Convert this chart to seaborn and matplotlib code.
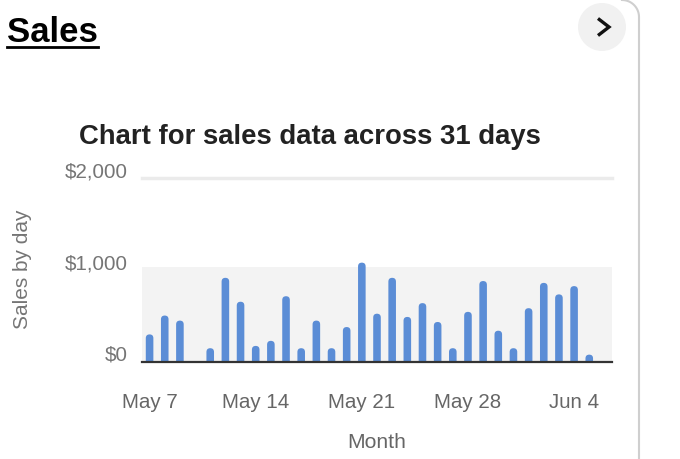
import matplotlib
matplotlib.use("Agg")
import matplotlib.pyplot as plt
import matplotlib.transforms as mtransforms
import seaborn as sns
import pandas as pd
import numpy as np
from matplotlib.patches import FancyBboxPatch, Ellipse
from matplotlib.lines import Line2D

# ---- data ----
dates = ["2024-05-07", "2024-05-08", "2024-05-09", "2024-05-11", "2024-05-12",
         "2024-05-13", "2024-05-14", "2024-05-15", "2024-05-16", "2024-05-17",
         "2024-05-18", "2024-05-19", "2024-05-20", "2024-05-21", "2024-05-22",
         "2024-05-23", "2024-05-24", "2024-05-25", "2024-05-26", "2024-05-27",
         "2024-05-28", "2024-05-29", "2024-05-30", "2024-05-31", "2024-06-01",
         "2024-06-02", "2024-06-03", "2024-06-04", "2024-06-05"]
sales = [300, 505, 450, 150, 915, 655, 175, 230, 715, 150,
         450, 150, 380, 1080, 525, 915, 490, 640, 435, 150,
         545, 880, 340, 150, 585, 860, 735, 825, 80]
tick_dates = ["2024-05-07", "2024-05-14", "2024-05-21", "2024-05-28", "2024-06-04"]
tick_labels = ["May 7", "May 14", "May 21", "May 28", "Jun 4"]
y_ticks = [0, 1000, 2000]
y_tick_labels = ["$0", "$1,000", "$2,000"]
start = pd.Timestamp("2024-05-07")
n_days = 31

df = pd.DataFrame({"date": pd.to_datetime(dates), "sales": sales})
df["day"] = (df["date"] - start).dt.days

W, H = 680, 459
fig = plt.figure(figsize=(W / 100, H / 100), dpi=100)
fig.patch.set_facecolor("white")

def fx(px):
    return px / W

def fy(py):
    return 1 - py / H

ax_left, ax_right, ax_top, ax_bottom = 142, 612, 178, 362
ax = fig.add_axes([fx(ax_left), fy(ax_bottom), (ax_right - ax_left) / W, (ax_bottom - ax_top) / H])
ax.set_facecolor("white")

bar_color = "#5b8dd6"
sns.barplot(data=df, x="day", y="sales", native_scale=True, color=bar_color,
            width=0.5, ax=ax, saturation=1, errorbar=None, zorder=3)

ax.set_xlim(-0.5, n_days - 0.5)
ax.set_ylim(0, 2000)

# rounded bar tops
px_per_x = (ax_right - ax_left) / n_days
px_per_y = (ax_bottom - ax_top) / 2000
aspect = px_per_x / px_per_y
patches = list(ax.patches)
for p in patches:
    x0, w, h = p.get_x(), p.get_width(), p.get_height()
    r = w / 2
    fb = FancyBboxPatch((x0, -200), w, h + 200,
                        boxstyle=f"round,pad=0,rounding_size={r}",
                        mutation_aspect=aspect,
                        facecolor=bar_color, edgecolor="none", zorder=3)
    p.remove()
    ax.add_patch(fb)

# background band and grid line
ax.axhspan(0, 1035, color="#f3f3f3", zorder=0, lw=0)
ax.axhline(2000, color="#ebebeb", lw=2.5, zorder=1, clip_on=False)

for s in ["top", "right", "left"]:
    ax.spines[s].set_visible(False)
ax.spines["bottom"].set_color("#333333")
ax.spines["bottom"].set_linewidth(1.6)
ax.spines["bottom"].set_zorder(5)

tick_pos = [(pd.Timestamp(d) - start).days for d in tick_dates]
ax.set_xticks(tick_pos)
ax.set_xticklabels(tick_labels, fontsize=14.8, color="#666666", family="Liberation Sans")
ax.set_yticks(y_ticks)
ax.set_yticklabels([])
ytrans = ax.get_yaxis_transform() + mtransforms.ScaledTranslation(-14 / 100, 6.5 / 100, fig.dpi_scale_trans)
for v, lab in zip(y_ticks, y_tick_labels):
    ax.text(0, v, lab, transform=ytrans, ha="right", va="center", fontsize=14.8,
            color="#757575", family="Liberation Sans", clip_on=False)
ax.tick_params(axis="both", length=0)
ax.tick_params(axis="x", pad=22.5)
ax.grid(False)
ax.set_xlabel("")
ax.set_ylabel("")

# axis titles
fig.text(fx(377), fy(442), "Month", ha="center", va="center",
         fontsize=15.2, color="#666666", family="Liberation Sans")
fig.text(fx(22), fy(269), "Sales by day", ha="center", va="center", rotation=90,
         fontsize=15, color="#757575", family="Liberation Sans")

# chart title
fig.text(fx(310), fy(136.5), "Chart for sales data across 31 days", ha="center", va="center",
         fontsize=19.8, fontweight="bold", color="#222222", family="Liberation Sans")

# card heading
t = fig.text(fx(7), fy(32.5), "Sales", ha="left", va="center",
             fontsize=25, fontweight="bold", color="#000000", family="Liberation Sans")
fig.canvas.draw()
bb = t.get_window_extent()
fig.add_artist(Line2D([bb.x0 / W, bb.x1 / W], [fy(47), fy(47)],
                      transform=fig.transFigure, color="#000000", lw=2.0))

# arrow button
fig.add_artist(Ellipse((fx(602), fy(27)), 48 / W, 48 / H, transform=fig.transFigure,
                       facecolor="#f1f1f1", edgecolor="none"))
fig.add_artist(Line2D([fx(598), fx(609), fx(598)], [fy(18.5), fy(27), fy(35.5)],
                      transform=fig.transFigure, color="#111111", lw=2.4,
                      solid_joinstyle="miter", solid_capstyle="butt"))

# card border with rounded corner
theta = np.linspace(np.pi / 2, 0, 20)
cx, cy, rr = 622, 17, 17
arc_x = cx + rr * np.cos(theta)
arc_y = cy - rr * np.sin(theta)
bx = list(arc_x) + [639]
by = list(arc_y) + [H]
fig.add_artist(Line2D([fx(v) for v in bx], [fy(v) for v in by], transform=fig.transFigure,
                      color="#cfcfcf", lw=1.5))

fig.savefig("out.png", dpi=100)
